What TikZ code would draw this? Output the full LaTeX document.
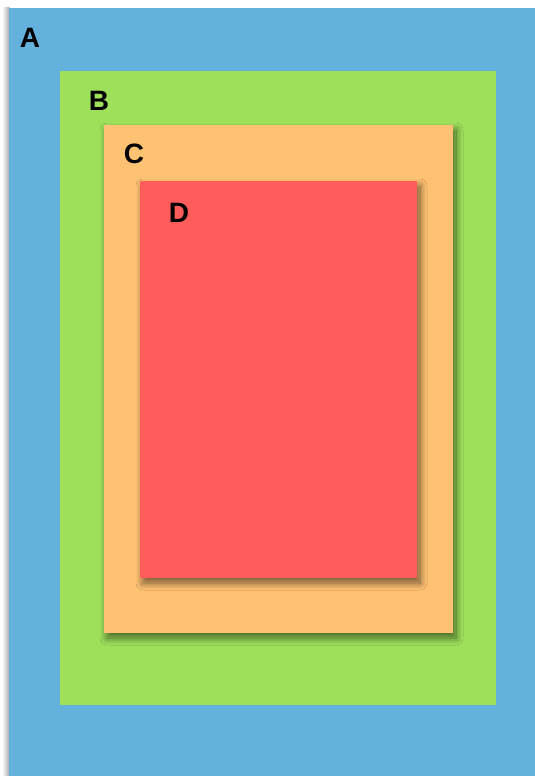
\documentclass[tikz,border=0pt]{standalone}
\usepackage{fontspec}
\setmainfont{Liberation Sans}
\usetikzlibrary{shadows.blur}
\definecolor{cA}{HTML}{63B1DC}
\definecolor{cB}{HTML}{9FE05B}
\definecolor{cC}{HTML}{FFC172}
\definecolor{cD}{HTML}{FF5C5C}
\tikzset{
  lbl/.style={anchor=center, inner sep=0pt, font=\fontsize{28}{28}\selectfont\bfseries, text=black},
  shd/.style={blur shadow={shadow xshift=3pt, shadow yshift=-5pt, shadow blur radius=7pt, shadow blur steps=16, shadow opacity=55}},
}
\begin{document}
\begin{tikzpicture}[x=1pt,y=-1pt]
\useasboundingbox (0,0) rectangle (535,776);
\fill[white] (0,0) rectangle (535,776);
% left shadow of A
\fill[left color=white, right color=black!35] (2,8) rectangle (9.5,776);
\fill[cA] (9,8) rectangle (535,776);
\fill[cB] (60,71) rectangle (496,705);
\path[fill=cC, shd] (104,125) rectangle (453,633);
\path[fill=cD, shd] (140,181) rectangle (417,578);
\node[lbl] (A) at (30,38) {A};
\node[lbl] (B) at (99,101) {B};
\node[lbl] (C) at (134,154) {C};
\node[lbl] (D) at (179,213) {D};
\end{tikzpicture}
\end{document}
